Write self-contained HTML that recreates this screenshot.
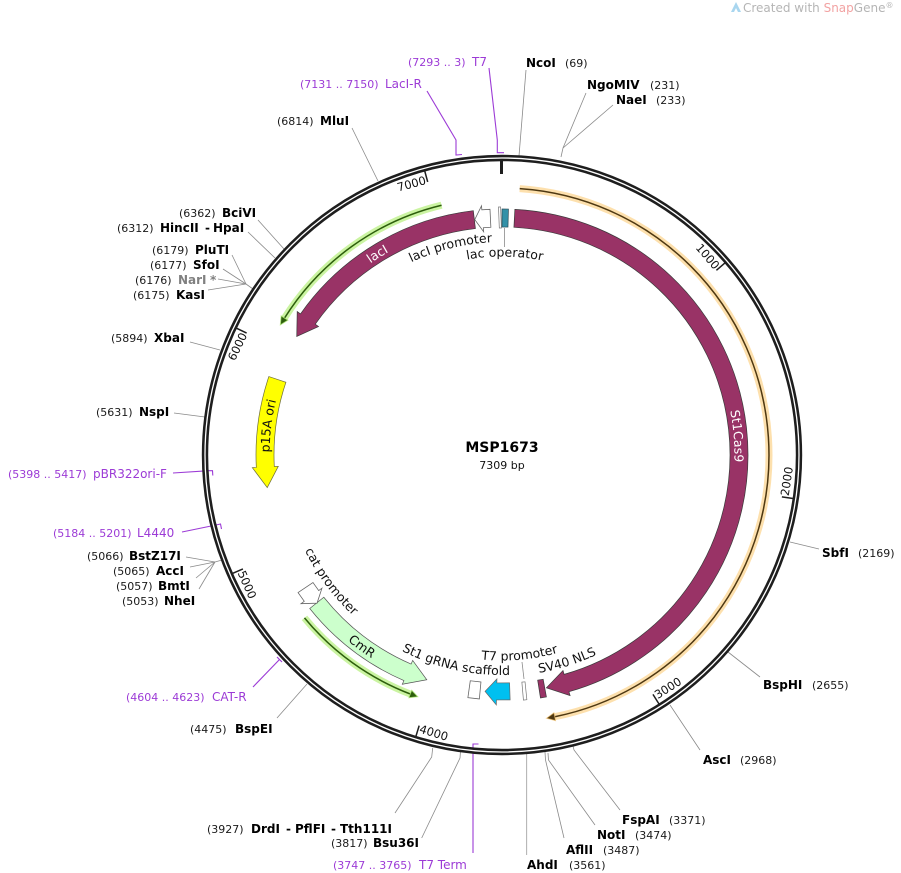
<!DOCTYPE html>
<html>
<head>
<meta charset="utf-8">
<style>
  html, body { margin:0; padding:0; background:#ffffff; }
  svg { display:block; }
  text { font-family: "DejaVu Sans", "Liberation Sans", sans-serif; }
  .num { font-size:11px; fill:#1a1a1a; }
  .nm { font-size:12px; font-weight:bold; fill:#000; }
  .pr { font-size:11px; fill:#9c3bd6; }
  .prn { font-size:12px; fill:#9c3bd6; }
  .ld { stroke:#8a8a8a; stroke-width:0.8; fill:none; }
  .pl { stroke:#9c3bd6; stroke-width:1.1; fill:none; }
  .tk { font-size:11.5px; fill:#111; }
  .cl { font-size:12.5px; fill:#111; }
</style>
</head>
<body>
<svg width="901" height="873" viewBox="0 0 901 873" xmlns="http://www.w3.org/2000/svg">
  <defs>
    <path id="tp1" d="M 319.54 345.12 A 213 213 0 0 1 611.88 272.54"/>
    <path id="tp2" d="M 363.57 312.73 A 198.5 198.5 0 0 1 644.31 316.61"/>
    <path id="tp3" d="M 275.64 401.91 A 232.5 232.5 0 0 1 555.09 228.64"/>
    <path id="tp4" d="M 652.69 277.94 A 232.5 232.5 0 0 1 679.06 605.69"/>
    <path id="tp5" d="M 318.54 597.82 A 232.5 232.5 0 0 1 359.18 271.54"/>
    <path id="tp6" d="M 263.34 491.95 A 241.5 241.5 0 0 0 538.95 693.66"/>
    <path id="tp7" d="M 285.40 422.63 A 219 219 0 0 0 469.63 671.60"/>
    <path id="tp8" d="M 316.45 573.21 A 220 220 0 0 0 620.21 640.55"/>
    <path id="tp9" d="M 369.91 612.42 A 205.5 205.5 0 0 0 659.42 587.09"/>
    <path id="tp10" d="M 399.95 651.03 A 221 221 0 0 0 698.03 557.05"/>
  </defs>

  <!-- watermark -->
  <polygon points="731,12 736,2 741,12 738,12 736,8 734,12" fill="#a9d6ef"/>
  <text x="743" y="12" style="font-size:12px;fill:#b5b5b5">Created with <tspan fill="#f2a3a3">Snap</tspan>Gene<tspan font-size="8" dy="-4">®</tspan></text>

  <!-- ORF glow lines -->
  <path d="M 519.69 188.59 A 267 267 0 0 1 554.78 716.73" stroke="#fbc76a" stroke-width="7" fill="none" opacity="0.55"/>
  <path d="M 519.69 188.59 A 267 267 0 0 1 554.78 716.73" stroke="#4e3812" stroke-width="1.5" fill="none"/>
  <polygon points="553.98,712.81 546.53,718.26 555.57,720.65" fill="#4e3812" stroke="#fbc76a" stroke-width="1" stroke-opacity="0.6"/>

  <path d="M 441.57 205.21 A 257 257 0 0 0 284.53 318.05" stroke="#b5f07a" stroke-width="7" fill="none" opacity="0.7"/>
  <path d="M 441.57 205.21 A 257 257 0 0 0 284.53 318.05" stroke="#2d5e0c" stroke-width="1.5" fill="none"/>
  <polygon points="287.91,320.18 280.33,324.95 281.14,315.92" fill="#2d5e0c" stroke="#b5f07a" stroke-width="1" stroke-opacity="0.7"/>

  <path d="M 304.47 617.84 A 256 256 0 0 0 410.26 694.00" stroke="#b5f07a" stroke-width="7" fill="none" opacity="0.7"/>
  <path d="M 304.47 617.84 A 256 256 0 0 0 410.26 694.00" stroke="#2d5e0c" stroke-width="1.5" fill="none"/>
  <polygon points="411.69,690.26 417.81,696.76 408.82,697.73" fill="#2d5e0c" stroke="#b5f07a" stroke-width="1" stroke-opacity="0.7"/>

  <!-- features -->
  <path d="M 514.88 209.34 A 246 246 0 0 1 568.98 691.71 L 570.07 695.56 L 546.41 687.80 L 562.99 670.54 L 564.08 674.39 A 228 228 0 0 0 513.93 227.31 Z" fill="#993366" stroke="#3a3a3a" stroke-width="0.7"/>
  <path d="M 473.30 210.68 L 475.40 228.56 A 228 228 0 0 0 315.23 324.22 L 318.51 326.52 L 296.75 336.5 L 297.21 311.60 L 300.49 313.90 A 246 246 0 0 1 473.30 210.68 Z" fill="#993366" stroke="#3a3a3a" stroke-width="0.7"/>
  <path d="M 268.85 376.54 L 285.91 382.28 A 228 228 0 0 0 274.29 466.53 L 278.29 466.33 L 267.25 487.57 L 252.32 467.65 L 256.31 467.45 A 246 246 0 0 1 268.85 376.54 Z" fill="#ffff00" stroke="#6e6e3a" stroke-width="0.7"/>
  <path d="M 309.75 608.47 L 323.81 597.24 A 228 228 0 0 0 411.08 664.09 L 412.68 660.42 L 426.80 679.75 L 402.31 684.27 L 403.91 680.60 A 246 246 0 0 1 309.75 608.47 Z" fill="#ccffcc" stroke="#555" stroke-width="0.7"/>
  <!-- cat promoter -->
  <polygon points="298.06,592.56 312.98,582.50 318.72,590.62 321.94,588.24 317.04,603.18 301.03,603.71 304.25,601.33" fill="#fff" stroke="#666" stroke-width="0.8"/>
  <!-- lacI promoter -->
  <polygon points="489.98,209.29 490.86,227.27 483.32,227.77 483.65,231.75 474.76,219.57 481.51,205.84 481.84,209.83" fill="#fff" stroke="#666" stroke-width="0.8"/>
  <!-- small element + lac operator -->
  <polygon points="498.5,207 500.6,207 501.4,228 499.3,228" fill="#fff" stroke="#777" stroke-width="0.7"/>
  <polygon points="502,209 508.44,209.08 507.97,227.08 502,227" fill="#3391a8" stroke="#2a4a55" stroke-width="0.7"/>
  <line x1="504.5" y1="228" x2="504.5" y2="247" class="ld"/>
  <!-- gRNA scaffold rect -->
  <polygon points="479.37,698.95 467.90,697.62 470.27,680.78 480.94,682.02" fill="#fff" stroke="#666" stroke-width="0.8"/>
  <!-- cyan arrow -->
  <polygon points="510.12,699.87 509.56,682.87 496.83,682.94 496.92,678.94 485.05,691.39 496.33,704.94 496.44,699.94" fill="#00c0f0" stroke="#666" stroke-width="0.7"/>
  <!-- T7 promoter -->
  <polygon points="521.87,682.13 525.04,681.83 526.86,699.74 523.44,700.06" fill="#fff" stroke="#777" stroke-width="0.7"/>
  <line x1="522" y1="662" x2="524" y2="679" class="ld"/>
  <!-- SV40 NLS -->
  <polygon points="546.41,696.96 540.48,697.97 537.67,680.19 543.16,679.25" fill="#993366" stroke="#3a3a3a" stroke-width="0.7"/>

  <!-- feature labels -->
  <text class="cl"><textPath href="#tp1" startOffset="50%" text-anchor="middle">lacI promoter</textPath></text>
  <text class="cl"><textPath href="#tp2" startOffset="50%" text-anchor="middle">lac operator</textPath></text>
  <text style="font-size:12.5px;fill:#fff"><textPath href="#tp3" startOffset="50%" text-anchor="middle">lacI</textPath></text>
  <text style="font-size:12.5px;fill:#fff"><textPath href="#tp4" startOffset="50%" text-anchor="middle">St1Cas9</textPath></text>
  <text class="cl"><textPath href="#tp5" startOffset="50%" text-anchor="middle">p15A ori</textPath></text>
  <text class="cl"><textPath href="#tp6" startOffset="50%" text-anchor="middle">CmR</textPath></text>
  <text class="cl"><textPath href="#tp7" startOffset="50%" text-anchor="middle">cat promoter</textPath></text>
  <text class="cl"><textPath href="#tp8" startOffset="50%" text-anchor="middle">St1 gRNA scaffold</textPath></text>
  <text class="cl"><textPath href="#tp9" startOffset="50%" text-anchor="middle">T7 promoter</textPath></text>
  <text class="cl"><textPath href="#tp10" startOffset="50%" text-anchor="middle">SV40 NLS</textPath></text>

  <!-- leader lines -->
  <polyline class="ld" points="526,70 519,156"/>
  <polyline class="ld" points="586,93 563,148 561,157"/>
  <polyline class="ld" points="613,105 563,148"/>
  <polyline class="ld" points="352,128 378,181"/>
  <polyline class="ld" points="258,220 284,249"/>
  <polyline class="ld" points="248,232 275,258"/>
  <polyline class="ld" points="232,255 246,284"/>
  <polyline class="ld" points="223,269 246,284"/>
  <polyline class="ld" points="218,279 246,284"/>
  <polyline class="ld" points="208,290 246,284"/>
  <polyline class="ld" points="246,284 253,289"/>
  <polyline class="ld" points="190,342 220,350"/>
  <polyline class="ld" points="174,413 205,417"/>
  <polyline class="ld" points="186,557 215,562"/>
  <polyline class="ld" points="190,567 215,562"/>
  <polyline class="ld" points="196,578 215,562"/>
  <polyline class="ld" points="199,589 215,562"/>
  <polyline class="ld" points="215,562 222,560"/>
  <polyline class="ld" points="277,718 307,684"/>
  <polyline class="ld" points="395,813 431.7,757 432.7,748"/>
  <polyline class="ld" points="421.7,838 460,758 460.5,751"/>
  <polyline class="ld" points="526.7,855 526.7,754" style="stroke:#9a9a9a"/>
  <polyline class="ld" points="564,838 545.5,760 545,752"/>
  <polyline class="ld" points="595,825 548.5,760 548,753"/>
  <polyline class="ld" points="620,810 574,750 573,746"/>
  <polyline class="ld" points="700,750 670,705"/>
  <polyline class="ld" points="760,677 728,652"/>
  <polyline class="ld" points="819,549 790,542"/>

  <!-- primer lines -->
  <polyline class="pl" points="489,68 497.3,140 497.3,152.7 504,152.7"/>
  <polyline class="pl" points="427,91 456,140 456,155 462,154.5"/>
  <polyline class="pl" points="173,473 209,470.7 212.5,470.7 212.8,475.5"/>
  <polyline class="pl" points="182,532 216,525 220.5,524 221.5,529"/>
  <polyline class="pl" points="253,687 279.5,659.5"/>
  <polyline class="pl" points="277,657 282,662"/>
  <polyline class="pl" points="473,853 473,744 478.5,744"/>

  <!-- main ring -->
  <circle cx="502" cy="455" r="297" fill="none" stroke="#1e1e1e" stroke-width="6.4"/>
  <circle cx="502" cy="455" r="297" fill="none" stroke="#ffffff" stroke-width="1.3"/>
  <line x1="501.5" y1="160" x2="501.5" y2="174" stroke="#1e1e1e" stroke-width="3"/>

  <!-- ticks -->
  <g transform="rotate(49.254 502 455)"><line x1="502" y1="159" x2="502" y2="172" stroke="#1e1e1e" stroke-width="1.5"/><text class="tk" x="500.5" y="173.6" text-anchor="end">1000</text></g>
  <g transform="rotate(295.526 502 455)"><line x1="502" y1="159" x2="502" y2="172" stroke="#1e1e1e" stroke-width="1.5"/><text class="tk" x="500.5" y="173.6" text-anchor="end">6000</text></g>
  <g transform="rotate(344.780 502 455)"><line x1="502" y1="159" x2="502" y2="172" stroke="#1e1e1e" stroke-width="1.5"/><text class="tk" x="500.5" y="173.6" text-anchor="end">7000</text></g>
  <g transform="rotate(-81.491 502 455)"><line x1="502" y1="751" x2="502" y2="738" stroke="#1e1e1e" stroke-width="1.5"/><text class="tk" x="503.5" y="744.6">2000</text></g>
  <g transform="rotate(-32.237 502 455)"><line x1="502" y1="751" x2="502" y2="738" stroke="#1e1e1e" stroke-width="1.5"/><text class="tk" x="503.5" y="744.6">3000</text></g>
  <g transform="rotate(17.017 502 455)"><line x1="502" y1="751" x2="502" y2="738" stroke="#1e1e1e" stroke-width="1.5"/><text class="tk" x="503.5" y="744.6">4000</text></g>
  <g transform="rotate(66.272 502 455)"><line x1="502" y1="751" x2="502" y2="738" stroke="#1e1e1e" stroke-width="1.5"/><text class="tk" x="503.5" y="744.6">5000</text></g>

  <!-- center -->
  <text x="502" y="452" text-anchor="middle" style="font-size:14px;font-weight:bold;fill:#000">MSP1673</text>
  <text x="502" y="469" text-anchor="middle" style="font-size:11px;fill:#111">7309 bp</text>

  <!-- site labels top/right -->
  <text class="nm" x="526" y="67">NcoI</text><text class="num" x="565" y="67">(69)</text>
  <text class="nm" x="587" y="89">NgoMIV</text><text class="num" x="650" y="89">(231)</text>
  <text class="nm" x="616" y="104">NaeI</text><text class="num" x="656" y="104">(233)</text>
  <text class="pr" x="408" y="66">(7293 .. 3)</text><text class="prn" x="472" y="66">T7</text>
  <text class="pr" x="300" y="88">(7131 .. 7150)</text><text class="prn" x="385" y="88">LacI-R</text>
  <text class="num" x="277" y="125">(6814)</text><text class="nm" x="320" y="125">MluI</text>

  <text class="num" x="179" y="217">(6362)</text><text class="nm" x="222" y="217">BciVI</text>
  <text class="num" x="117" y="232">(6312)</text><text class="nm" x="160" y="232">HincII</text><text class="nm" x="205" y="232">-</text><text class="nm" x="213" y="232">HpaI</text>
  <text class="num" x="152" y="254">(6179)</text><text class="nm" x="195" y="254">PluTI</text>
  <text class="num" x="150" y="269">(6177)</text><text class="nm" x="193" y="269">SfoI</text>
  <text class="num" x="135" y="284">(6176)</text><text class="nm" x="178" y="284" style="fill:#808080">NarI</text><text class="nm" x="210" y="284" style="fill:#808080">*</text>
  <text class="num" x="133" y="299">(6175)</text><text class="nm" x="176" y="299">KasI</text>
  <text class="num" x="111" y="342">(5894)</text><text class="nm" x="154" y="342">XbaI</text>
  <text class="num" x="96" y="416">(5631)</text><text class="nm" x="139" y="416">NspI</text>
  <text class="pr" x="8" y="478">(5398 .. 5417)</text><text class="prn" x="93" y="478">pBR322ori-F</text>
  <text class="pr" x="53" y="537">(5184 .. 5201)</text><text class="prn" x="137" y="537">L4440</text>
  <text class="num" x="87" y="560">(5066)</text><text class="nm" x="129" y="560">BstZ17I</text>
  <text class="num" x="113" y="575">(5065)</text><text class="nm" x="156" y="575">AccI</text>
  <text class="num" x="116" y="590">(5057)</text><text class="nm" x="158" y="590">BmtI</text>
  <text class="num" x="122" y="605">(5053)</text><text class="nm" x="164" y="605">NheI</text>
  <text class="pr" x="126" y="701">(4604 .. 4623)</text><text class="prn" x="212" y="701">CAT-R</text>
  <text class="num" x="190" y="733">(4475)</text><text class="nm" x="235" y="733">BspEI</text>

  <!-- bottom -->
  <text class="num" x="207" y="833">(3927)</text><text class="nm" x="251" y="833">DrdI</text><text class="nm" x="286" y="833">-</text><text class="nm" x="295" y="833">PflFI</text><text class="nm" x="331" y="833">-</text><text class="nm" x="340" y="833">Tth111I</text>
  <text class="num" x="331" y="847">(3817)</text><text class="nm" x="373" y="847">Bsu36I</text>
  <text class="pr" x="333" y="869">(3747 .. 3765)</text><text class="prn" x="419" y="869">T7 Term</text>
  <text class="nm" x="527" y="869">AhdI</text><text class="num" x="569" y="869">(3561)</text>
  <text class="nm" x="566" y="854">AflII</text><text class="num" x="603" y="854">(3487)</text>
  <text class="nm" x="597" y="839">NotI</text><text class="num" x="635" y="839">(3474)</text>
  <text class="nm" x="622" y="824">FspAI</text><text class="num" x="669" y="824">(3371)</text>
  <text class="nm" x="703" y="764">AscI</text><text class="num" x="740" y="764">(2968)</text>
  <text class="nm" x="763" y="689">BspHI</text><text class="num" x="812" y="689">(2655)</text>
  <text class="nm" x="822" y="557">SbfI</text><text class="num" x="858" y="557">(2169)</text>
</svg>
</body>
</html>
